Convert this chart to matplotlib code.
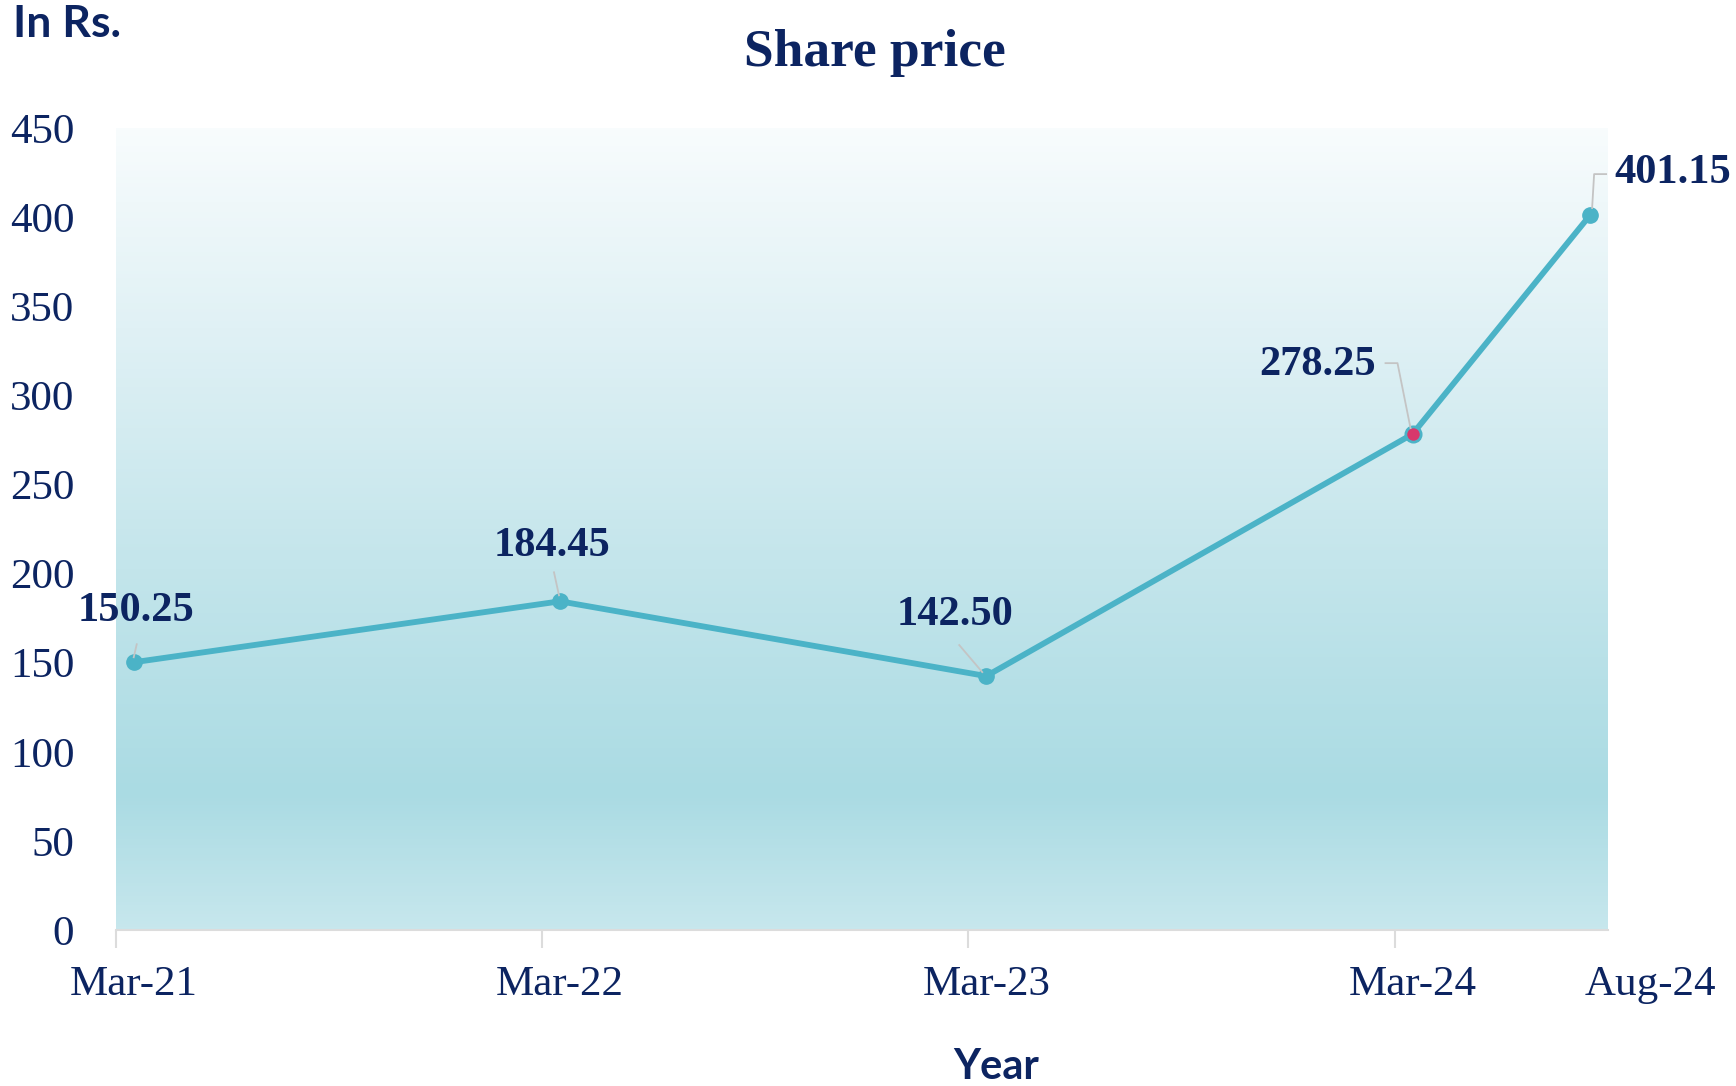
import numpy as np
import matplotlib
matplotlib.use("Agg")
from matplotlib import pyplot as plt
from matplotlib.colors import LinearSegmentedColormap

# data
periods = ["Mar-21", "Mar-22", "Mar-23", "Mar-24", "Aug-24"]
months = [0, 12, 24, 36, 41]          # months since Mar-21
price = [150.25, 184.45, 142.50, 278.25, 401.15]
price_text = ["150.25", "184.45", "142.50", "278.25", "401.15"]
yticks = [0, 50, 100, 150, 200, 250, 300, 350, 400, 450]

navy = "#0c2461"
teal = "#4bb3c7"
pink = "#d8386c"
leader_grey = "#c4c4c4"
serif = "Liberation Serif"

fig = plt.figure(figsize=(17.36, 10.86), dpi=100)
ax = fig.add_axes([0.0668, 0.1436, 0.8594, 0.7385])

ax.set_xlim(-0.5, 41.5)
ax.set_ylim(0, 450)

# gradient background of the plot area
grad_cmap = LinearSegmentedColormap.from_list(
    "bg", [(0.0, "#c7e7ed"), (0.17, "#aadbe3"), (0.45, "#c3e5eb"),
           (0.75, "#e0f1f5"), (1.0, "#f8fcfd")])
grad = np.linspace(0, 1, 256).reshape(-1, 1)
ax.imshow(grad, cmap=grad_cmap, origin="lower", aspect="auto",
          extent=[-0.5, 41.5, 0, 450], zorder=0)

ax.plot(months, price, color=teal, lw=4.2, zorder=3, solid_capstyle="round")
ax.plot(months, price, "o", color=teal, ms=11, zorder=4)
ax.plot(months[3], price[3], "o", mfc=pink, mec=teal, mew=2, ms=11, zorder=5)

# spines / ticks
for s in ["left", "right", "top"]:
    ax.spines[s].set_visible(False)
ax.spines["bottom"].set_color("#dcdcdc")
ax.spines["bottom"].set_linewidth(1.5)

ax.set_yticks(yticks)
ax.set_yticklabels([str(v) for v in yticks], fontfamily=serif, fontsize=31, color=navy)
ax.tick_params(axis="y", length=0, pad=30)

ax.set_xticks([-0.5, 11.5, 23.5, 35.5])
ax.set_xticklabels([])
ax.tick_params(axis="x", length=13, width=1.5, color="#dcdcdc")

# x category labels (date axis style)
fig.canvas.draw()
for i, (m, lab) in enumerate(zip(months, periods)):
    px, _ = ax.transData.transform((m, 0))
    if i == len(months) - 1:
        px += 60
    fig.text(px / fig.dpi / fig.get_figwidth(), 1 - 985 / 1086, lab,
             ha="center", va="center", fontfamily=serif, fontsize=31, color=navy)

# data labels with leader lines (offsets in pixels, y up)
label_off = [(2, 51, "center"), (-8, 55, "center"), (-31, 61, "center"),
             (-95, 69, "center"), (24, 42, "left")]
leaders = [
    [(3, 18), (0, 5)],
    [(-6, 29), (-1, 6)],
    [(-27, 31), (-4, 4)],
    [(-27, 71), (-15, 71), (-2, 6)],
    [(16, 41), (4, 41), (2, 7)],
]
for m, v, txt, (dx, dy, ha), lead in zip(months, price, price_text, label_off, leaders):
    px, py = ax.transData.transform((m, v))
    fig.text((px + dx) / (fig.dpi * fig.get_figwidth()),
             (py + dy) / (fig.dpi * fig.get_figheight()),
             txt, ha=ha, va="center", fontfamily=serif, fontweight="bold",
             fontsize=30.5, color=navy, zorder=6)
    lx = [(px + a) / (fig.dpi * fig.get_figwidth()) for a, b in lead]
    ly = [(py + b) / (fig.dpi * fig.get_figheight()) for a, b in lead]
    fig.add_artist(plt.Line2D(lx, ly, color=leader_grey, lw=1.3, zorder=6))

# titles
fig.text(875 / 1736, 1 - 53 / 1086, "Share price", ha="center", va="center",
         fontfamily=serif, fontweight="bold", fontsize=38.5, color=navy)
fig.text(13 / 1736, 1 - 24 / 1086, "In Rs.", ha="left", va="center",
         fontfamily="Lato", fontweight="bold", fontsize=32, color=navy)
fig.text(996 / 1736, 1 - 1067 / 1086, "Year", ha="center", va="center",
         fontfamily="Lato", fontweight="bold", fontsize=30, color=navy)

fig.savefig("out.png", dpi=100)
